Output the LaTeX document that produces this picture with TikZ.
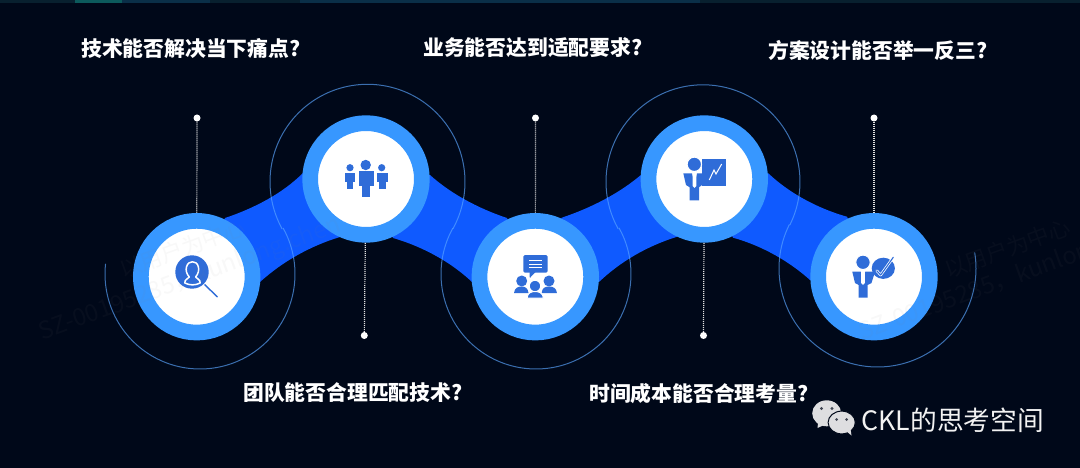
\documentclass[tikz,border=0pt]{standalone}
\usepackage{fontspec}
\setmainfont{Noto Sans CJK SC}
\usetikzlibrary{calc}
\definecolor{bgc}{HTML}{000819}
\definecolor{bandc}{HTML}{0F5AFF}
\definecolor{ringc}{HTML}{3797FF}
\definecolor{iconc}{HTML}{2F6CD8}
\definecolor{linec}{HTML}{5AA5FF}
\definecolor{dotc}{HTML}{E2E2E2}
\definecolor{wxc}{HTML}{DEDEE0}
\definecolor{stripa}{HTML}{08202F}
\definecolor{stripb}{HTML}{0C5A5C}
\definecolor{stripc}{HTML}{0A2F48}
\tikzset{
  hub/.style={circle,draw=ringc,fill=white,line width=15.7pt,minimum size=111.7pt,inner sep=0pt},
  pin/.style={circle,fill=white,minimum size=7pt,inner sep=0pt},
  stem/.style={draw=dotc,line width=1.2pt,dash pattern=on 1pt off 1pt},
  band/.style={fill=bandc},
  wave/.style={draw=linec,opacity=.66,line width=1pt},
  ask/.style={anchor=west,text=white,font=\fontsize{20.8pt}{24pt}\selectfont\bfseries,inner sep=0pt},
  ico/.style={fill=iconc,draw=none},
  wm/.style={anchor=west,rotate=20,inner sep=0pt,text=gray,opacity=.055,font=\fontsize{22pt}{26pt}\selectfont},
  wmb/.style={wm,font=\fontsize{24pt}{28pt}\selectfont}
}
\newcommand{\wv}[5]{\draw[wave,line cap=round] plot[domain=#4:#5,samples=70,smooth] ({#1+#3*cos(\x)},{#2+#3*sin(\x)});}
\begin{document}
\begin{tikzpicture}[x=1pt,y=-1pt]
\useasboundingbox (0,0) rectangle (1080,468);
\clip (0,0) rectangle (1080,468);
\fill[bgc] (0,0) rectangle (1080,468);
% hubs
\begin{scope}[on background layer/.style={}]
\path (196.7,276.7) coordinate (c1) (366,179) coordinate (c2) (535.3,276.7) coordinate (c3) (704.3,179) coordinate (c4) (874,276.7) coordinate (c5);
\end{scope}
% top strip
\fill[stripa] (0,0) rectangle (1080,2.6);
\fill[stripb] (75,0) rectangle (122,2.6);
\fill[stripc] (122,0) rectangle (210,2.6);
\fill[stripc] (300,0) rectangle (700,2.6);

% ribbons
\fill[band] (225,218) .. controls (255,208) and (283,193) .. (303,173) -- (c2) -- (340,237) .. controls (310,246) and (282,262) .. (260,282) -- (c1) -- cycle;
\fill[band] (430,175) .. controls (450,193) and (477,208) .. (507,218) -- (c3) -- (472,282) .. controls (452,263) and (424,247) .. (393,238) -- (c2) -- cycle;
\fill[band] (561.7,217.7) .. controls (591,208) and (620,193) .. (641.7,174.3) -- (c4) -- (677.3,236.7) .. controls (647,246) and (620,262) .. (599.3,281.7) -- (c3) -- cycle;
\fill[band] (768.3,173.3) .. controls (788,192) and (816,208) .. (847,216.7) -- (c5) -- (810,280) .. controls (790,262) and (763,246) .. (733,237.7) -- (c4) -- cycle;

% thin wave
\wv{200}{274}{95}{186}{-28.8}
\wv{367.5}{181.8}{97.5}{151.2}{388.7}
\wv{536}{274}{95}{208.7}{-28.9}
\wv{703}{181.8}{97}{151.1}{386.4}
\wv{877.5}{268.5}{98.5}{206.4}{-9.2}

% hubs
\node[hub] (n1) at (c1) {};
\node[hub] (n2) at (c2) {};
\node[hub] (n3) at (c3) {};
\node[hub] (n4) at (c4) {};
\node[hub] (n5) at (c5) {};

% pins and stems
\node[pin] (p1) at (197,118) {};
\node[pin] (p2) at (364.3,335.5) {};
\node[pin] (p3) at (535.5,118) {};
\node[pin] (p4) at (703.5,335.5) {};
\node[pin] (p5) at (874,118) {};
\draw[stem] (p1) -- (n1);
\draw[stem] (p2) -- (n2);
\draw[stem] (p3) -- (n3);
\draw[stem] (p4) -- (n4);
\draw[stem] (p5) -- (n5);

% icon 1
\fill[ico] (192,272) circle (16.7);
\draw[white,line width=1.5pt,line join=round] (184.8,283) .. controls (184.5,279) and (188,279.5) .. (189.3,277) .. controls (186.5,274) and (185.6,270) .. (186.5,267) .. controls (187.5,263) and (190,261.8) .. (192.4,261.8) .. controls (195,261.8) and (197.5,263) .. (198.4,267) .. controls (199.2,270) and (198.3,274) .. (195.6,277) .. controls (197,279.5) and (200.4,279) .. (200.2,283) .. controls (195,285.5) and (190,285.5) .. (184.8,283) -- cycle;
\draw[iconc,line width=1.4pt] (204.5,284.5) -- (217.5,297);

% icon 2
\fill[ico] (365.7,165) circle (5.2);
\fill[ico] (359.3,171) rectangle (373.7,186);
\fill[ico] (362.3,186) rectangle (369.7,197);
\fill[ico] (350,167.7) circle (3.6);
\fill[ico] (345,173) rectangle (355,181.7);
\fill[ico] (347,181.7) rectangle (353.3,189.3);
\fill[ico] (381.7,167.7) circle (3.6);
\fill[ico] (376.7,173) rectangle (387.7,181.7);
\fill[ico] (379,181.7) rectangle (386,189.3);

% icon 3
\fill[ico,rounded corners=1.5pt] (523.3,255) rectangle (547.7,272.7);
\fill[ico] (529.5,272) -- (529.8,278) -- (535.5,272) -- cycle;
\draw[white,line width=1pt] (529.3,260) -- (542.3,260) (529.3,264) -- (542.3,264) (529.3,267.7) -- (542.3,267.7);
\fill[ico] (521.7,281) circle (5.5);
\fill[ico] (514,293) .. controls (514.5,288) and (518,286.5) .. (521.5,286.5) .. controls (525,286.5) and (528,288) .. (528.5,293) -- cycle;
\fill[ico] (549,281) circle (5.5);
\fill[ico] (541.7,293) .. controls (542,288) and (545,286.5) .. (549,286.5) .. controls (553,286.5) and (556.5,288) .. (556.9,293) -- cycle;
\draw[white,line width=1.2pt,fill=iconc] (535,286) circle (5.8);
\draw[white,line width=1pt,fill=iconc] (527,298.2) .. controls (527.5,293) and (531,291.5) .. (535,291.5) .. controls (539,291.5) and (543,293) .. (543.5,298.2) -- cycle;

% icon 4
\fill[ico] (702.3,159) rectangle (725.7,186.3);
\draw[white,line width=1pt] (709.3,180) -- (714,170) -- (716,174) -- (721.7,164);
\draw[white,line width=1.1pt,fill=iconc] (694.3,164.3) circle (7.2);
\fill[ico] (683.3,173.3) -- (692,173.3) -- (694.5,184) -- (697,173.3) -- (705.7,173.3) -- (702,185) -- (699,187.3) -- (699,200.3) -- (689.7,200.3) -- (689.7,187.3) -- (686,185) -- cycle;
\fill[white] (692.6,173.3) -- (696.4,173.3) -- (696.4,186) -- (694.5,188) -- (692.6,186) -- cycle;

% icon 5
\fill[ico] (883.3,268.3) ellipse (11.6 and 10.6);
\draw[white,line width=2.6pt,line cap=round,line join=round] (876.7,270.7) -- (880.7,275) -- (893.3,257.3);
\draw[iconc,line width=1.1pt,line cap=round,line join=round] (876.7,270.7) -- (880.7,275) -- (893.3,257.3);
\draw[white,line width=1pt,fill=iconc] (863,262.3) circle (7.2);
\fill[ico] (852.3,271.7) -- (860.7,271.7) -- (863,281) -- (865.3,271.7) -- (875,271.7) -- (871.5,283) -- (867.7,285) -- (867.7,297.7) -- (858.7,297.7) -- (858.7,285) -- (855,283) -- cycle;
\fill[white] (861.2,271.7) -- (864.8,271.7) -- (864.8,283) -- (863,285) -- (861.2,283) -- cycle;

% questions
\node[ask] (q1) at (81,49) {技术能否解决当下痛点?};
\node[ask] (q2) at (423,48) {业务能否达到适配要求?};
\node[ask] (q3) at (768,50) {方案设计能否举一反三?};
\node[ask] (q4) at (243,393) {团队能否合理匹配技术?};
\node[ask] (q5) at (589,394) {时间成本能否合理考量?};

% wechat mark
\fill[wxc] (826.7,413.3) ellipse (14.5 and 13);
\fill[wxc] (818,423) -- (817.5,428) -- (824,425) -- cycle;
\draw[bgc,line width=1pt,fill=wxc] (841.7,422.5) ellipse (13.6 and 11.4);
\fill[wxc] (846,431) -- (851.5,435.5) -- (850.5,429) -- cycle;
\fill[bgc!70!wxc] (821.5,408.5) circle (1.7) (832,408.5) circle (1.7);
\fill[bgc!70!wxc] (836.5,419.5) circle (1.5) (846.5,419.5) circle (1.5);
\node[anchor=west,inner sep=0pt,text=white!90!gray,font=\fontsize{26.7pt}{30pt}\selectfont] (brand) at (861.5,420) {CKL的思考空间};

% watermarks
\node[wm] (w1) at (120,271) {以用户为中心};
\node[wmb] (w2) at (40,334) {SZ-00195285，kunlong.chen};
\node[wm] (w3) at (945,271) {以用户为中心};
\node[wmb] (w4) at (860,334) {SZ-00195285，kunlong.chen};
\end{tikzpicture}
\end{document}
